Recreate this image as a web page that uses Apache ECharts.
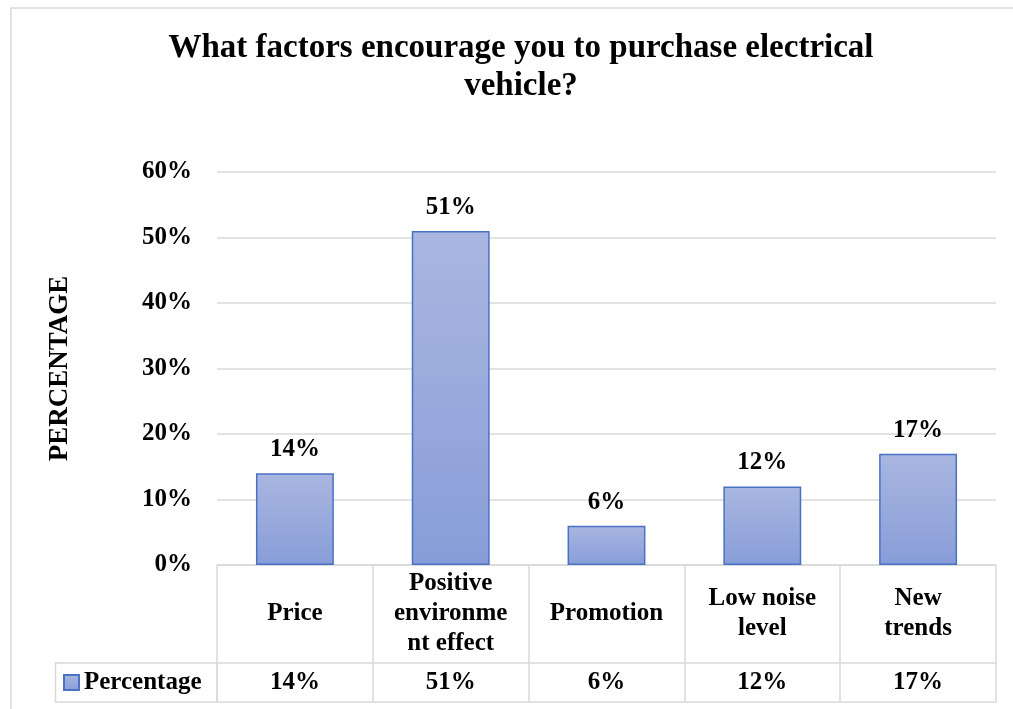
<!DOCTYPE html>
<html>
<head>
<meta charset="utf-8">
<script src="https://cdn.jsdelivr.net/npm/echarts@6/dist/echarts.min.js"></script>
<style>
  html, body { margin: 0; padding: 0; background: #ffffff; }
  #chart { width: 1013px; height: 709px; }
</style>
</head>
<body>
<div id="chart"></div>
<script>
// Survey: factors encouraging electric vehicle purchase
const categories = ['Price', 'Positive\nenvironme\nnt effect', 'Promotion', 'Low noise\nlevel', 'New\ntrends'];
const percentages = [14, 51, 6, 12, 17];
const yTicks = [0, 10, 20, 30, 40, 50, 60];
const seriesName = 'Percentage';

const FONT = '"Liberation Serif", "Times New Roman", serif';
const GRID_LINE = '#d9d9d9';
const TEXT_SIZE = 25;
const pct = v => v + '%';

const chart = echarts.init(document.getElementById('chart'));

const barFill = new echarts.graphic.LinearGradient(0, 0, 0, 1, [
  { offset: 0, color: '#a9b6e0' },
  { offset: 1, color: '#889dd8' }
]);

chart.setOption({
  backgroundColor: '#ffffff',
  animation: false,
  title: {
    text: 'What factors encourage you to purchase electrical\nvehicle?',
    left: 516,
    textAlign: 'center',
    top: 24,
    textStyle: { fontFamily: FONT, fontWeight: 'bold', fontSize: 33, lineHeight: 38, color: '#000' }
  },
  legend: {
    data: [seriesName],
    left: 58,
    top: 665,
    icon: 'rect',
    itemWidth: 15,
    itemHeight: 15,
    textStyle: { fontFamily: FONT, fontWeight: 'bold', fontSize: TEXT_SIZE, color: '#000' }
  },
  grid: { left: 217, right: 17, top: 172, bottom: 144, containLabel: false },
  xAxis: [
    {
      // category names row of the data table
      type: 'category',
      data: categories,
      position: 'bottom',
      axisLine: { show: true, lineStyle: { color: GRID_LINE, width: 1.5 } },
      axisTick: { show: true, interval: 0, length: 137, lineStyle: { color: GRID_LINE, width: 1.5 } },
      axisLabel: {
        interval: 0, margin: 49, verticalAlign: 'middle',
        fontFamily: FONT, fontWeight: 'bold', fontSize: TEXT_SIZE, lineHeight: 30, color: '#000'
      }
    },
    {
      // values row of the data table
      type: 'category',
      data: categories,
      position: 'bottom',
      offset: 98,
      axisLine: { show: true, lineStyle: { color: GRID_LINE, width: 1.5 } },
      axisTick: { show: false },
      axisLabel: {
        interval: 0, margin: 20, verticalAlign: 'middle',
        formatter: (v, i) => pct(percentages[i]),
        fontFamily: FONT, fontWeight: 'bold', fontSize: TEXT_SIZE, color: '#000'
      }
    },
    {
      // bottom border of the data table
      type: 'category',
      data: categories,
      position: 'bottom',
      offset: 137,
      axisLine: { show: true, lineStyle: { color: GRID_LINE, width: 1.5 } },
      axisTick: { show: false },
      axisLabel: { show: false }
    }
  ],
  yAxis: {
    type: 'value',
    min: yTicks[0],
    max: yTicks[yTicks.length - 1],
    interval: yTicks[1] - yTicks[0],
    name: 'PERCENTAGE',
    nameLocation: 'middle',
    nameRotate: 90,
    nameGap: 143,
    nameTextStyle: { fontFamily: FONT, fontWeight: 'bold', fontSize: 27, color: '#000' },
    axisLine: { show: false },
    axisTick: { show: false },
    splitLine: { lineStyle: { color: GRID_LINE, width: 1.5 } },
    axisLabel: {
      margin: 25,
      formatter: pct,
      fontFamily: FONT, fontWeight: 'bold', fontSize: TEXT_SIZE, color: '#000'
    }
  },
  graphic: [
    {
      // legend key cell of the data table
      type: 'rect',
      shape: { x: 55.5, y: 663, width: 161.5, height: 39 },
      style: { fill: 'none', stroke: GRID_LINE, lineWidth: 1.5 },
      z: 1
    },
    {
      // chart area border
      type: 'rect',
      shape: { x: 11, y: 8, width: 1020, height: 720 },
      style: { fill: 'none', stroke: GRID_LINE, lineWidth: 1.5 },
      z: 0
    }
  ],
  series: [
    {
      name: seriesName,
      type: 'bar',
      xAxisIndex: 0,
      data: percentages,
      barWidth: '50%',
      itemStyle: { color: barFill, borderColor: '#4a72c4', borderWidth: 1.5 },
      label: {
        show: true,
        position: 'top',
        distance: 11,
        formatter: p => pct(p.value),
        fontFamily: FONT, fontWeight: 'bold', fontSize: TEXT_SIZE, color: '#000'
      }
    }
  ]
});
</script>
</body>
</html>
